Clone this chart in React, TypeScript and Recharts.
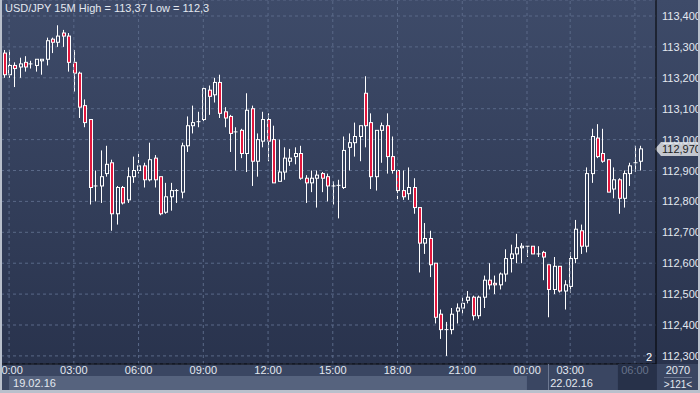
import React from 'react';
import { ComposedChart, Bar, XAxis, YAxis, CartesianGrid, ReferenceLine } from 'recharts';

// USD/JPY 15M candles
const opens = [
  113.28, 113.21, 113.24, 113.235, 113.25, 113.245, 113.24, 113.255, 113.26, 113.325,
  113.315, 113.345, 113.335, 113.25, 113.215, 113.11, 113.065, 112.85, 112.85, 112.89,
  112.925, 112.76, 112.845, 112.805, 112.88, 112.9, 112.915, 112.87, 112.94, 112.88,
  112.765, 112.815, 112.835, 112.83, 112.98, 113.045, 113.055, 113.065, 113.16, 113.145,
  113.185, 113.09, 113.075, 113.025, 113.03, 112.955, 113.1, 112.93, 112.995, 113.065,
  113.0, 112.865, 112.895, 112.93, 112.945, 112.955, 112.875, 112.86, 112.875, 112.89,
  112.88, 112.85, 112.85, 112.845, 112.975, 112.99, 113.01, 113.15, 113.055, 112.88,
  113.03, 113.045, 112.945, 112.9, 112.835, 112.825, 112.845, 112.78, 112.665, 112.68,
  112.6, 112.435, 112.385, 112.385, 112.445, 112.455, 112.48, 112.49, 112.43, 112.49,
  112.545, 112.535, 112.53, 112.565, 112.615, 112.63, 112.65, 112.655, 112.655, 112.63,
  112.635, 112.595, 112.515, 112.59, 112.51, 112.525, 112.615, 112.705, 112.655, 112.89,
  113.005, 112.955, 112.935, 112.84, 112.87, 112.81, 112.89, 112.925, 112.93,
];
const highs = [
  113.29, 113.29, 113.25, 113.265, 113.27, 113.255, 113.26, 113.26, 113.33, 113.33,
  113.37, 113.355, 113.345, 113.29, 113.22, 113.13, 113.065, 112.9, 112.965, 112.98,
  112.935, 112.85, 112.85, 112.91, 112.945, 112.955, 112.925, 112.99, 112.95, 112.88,
  112.86, 112.86, 112.84, 112.99, 113.075, 113.11, 113.09, 113.17, 113.175, 113.2,
  113.21, 113.105, 113.08, 113.04, 113.035, 113.15, 113.11, 113.02, 113.09, 113.085,
  113.045, 113.0, 112.975, 112.97, 112.975, 112.98, 112.885, 112.9, 112.9, 112.895,
  112.89, 112.865, 112.87, 113.01, 113.02, 113.055, 113.045, 113.205, 113.085, 113.03,
  113.055, 113.085, 113.01, 112.9, 112.9, 112.91, 112.875, 112.78, 112.73, 112.705,
  112.6, 112.45, 112.41, 112.455, 112.47, 112.49, 112.51, 112.495, 112.495, 112.56,
  112.6, 112.56, 112.57, 112.645, 112.66, 112.695, 112.665, 112.655, 112.655, 112.655,
  112.64, 112.595, 112.62, 112.59, 112.545, 112.635, 112.74, 112.725, 112.91, 113.035,
  113.05, 113.035, 112.935, 112.91, 112.875, 112.9, 112.925, 112.98, 112.98,
];
const lows = [
  113.2, 113.2, 113.17, 113.2, 113.22, 113.23, 113.22, 113.21, 113.24, 113.28,
  113.3, 113.3, 113.22, 113.155, 113.07, 113.04, 112.79, 112.8, 112.795, 112.88,
  112.705, 112.725, 112.79, 112.795, 112.86, 112.89, 112.845, 112.865, 112.845, 112.755,
  112.76, 112.77, 112.795, 112.81, 112.96, 113.02, 113.04, 113.06, 113.08, 113.12,
  113.07, 113.04, 112.96, 112.9, 112.94, 112.895, 112.85, 112.88, 112.975, 112.93,
  112.86, 112.865, 112.87, 112.915, 112.92, 112.87, 112.795, 112.83, 112.78, 112.83,
  112.8, 112.79, 112.745, 112.84, 112.9, 112.945, 112.93, 112.975, 112.84, 112.835,
  112.925, 112.89, 112.89, 112.805, 112.805, 112.805, 112.76, 112.57, 112.63, 112.555,
  112.405, 112.355, 112.3, 112.37, 112.405, 112.435, 112.47, 112.415, 112.42, 112.455,
  112.515, 112.5, 112.515, 112.54, 112.57, 112.6, 112.6, 112.62, 112.63, 112.62,
  112.545, 112.425, 112.5, 112.505, 112.45, 112.505, 112.6, 112.63, 112.635, 112.86,
  112.94, 112.925, 112.83, 112.81, 112.76, 112.78, 112.85, 112.895, 112.9,
];
const closes = [
  113.21, 113.24, 113.23, 113.245, 113.235, 113.245, 113.26, 113.26, 113.32, 113.315,
  113.335, 113.335, 113.25, 113.215, 113.105, 113.055, 112.845, 112.85, 112.88, 112.92,
  112.76, 112.845, 112.795, 112.88, 112.9, 112.915, 112.87, 112.935, 112.87, 112.76,
  112.815, 112.835, 112.835, 112.98, 113.045, 113.055, 113.058, 113.165, 113.14, 113.185,
  113.085, 113.07, 113.02, 113.025, 112.955, 113.095, 112.93, 113.0, 113.065, 112.995,
  112.86, 112.895, 112.94, 112.94, 112.955, 112.875, 112.86, 112.875, 112.885, 112.875,
  112.85, 112.85, 112.852, 112.965, 112.99, 113.01, 113.045, 113.045, 112.88, 113.03,
  113.045, 112.945, 112.9, 112.835, 112.815, 112.845, 112.78, 112.665, 112.68, 112.595,
  112.425, 112.385, 112.385, 112.435, 112.455, 112.47, 112.49, 112.43, 112.49, 112.545,
  112.53, 112.53, 112.565, 112.615, 112.63, 112.65, 112.655, 112.655, 112.63, 112.63,
  112.62, 112.515, 112.59, 112.51, 112.53, 112.615, 112.71, 112.655, 112.89, 113.01,
  112.945, 112.93, 112.83, 112.87, 112.81, 112.89, 112.915, 112.925, 112.97,
];

const priceTicks = [112.3, 112.4, 112.5, 112.6, 112.7, 112.8, 112.9, 113.0, 113.1, 113.2, 113.3, 113.4];
const timeTickIdx = [1, 13, 25, 37, 49, 61, 73, 85, 97, 105, 117];
const timeTickLabels = ['00:00', '03:00', '06:00', '09:00', '12:00', '15:00', '18:00', '21:00', '00:00', '03:00', '06:00'];
const dateLabels = ['19.02.16', '22.02.16'];

const FONT = "'Liberation Sans Narrow', 'Liberation Sans', Arial, sans-serif";
const BAND = 5.394;

const data = opens.map((o, i) => ({
  i,
  open: o,
  high: highs[i],
  low: lows[i],
  close: closes[i],
  range: [lows[i], highs[i]],
}));

const fmt = (v: number, d = 3) => v.toFixed(d).replace('.', ',');

const Candle = (props: any) => {
  const { x, y, width, height, payload } = props;
  const { open, close, high, low } = payload;
  const c = Math.floor(x + width / 2);
  const wx = c + 0.5;
  const k = height / (high - low);
  const py = (p: number) => y + (high - p) * k;
  const top = py(Math.max(open, close));
  const bot = py(Math.min(open, close));
  const up = close >= open;
  if (bot - top < 1) {
    return (
      <g>
        <line x1={wx} x2={wx} y1={y} y2={y + height} stroke="#fff" />
        <line x1={c - 1.5} x2={c + 2.5} y1={top} y2={top} stroke="#fff" />
      </g>
    );
  }
  return (
    <g>
      <line x1={wx} x2={wx} y1={y} y2={top} stroke="#fff" />
      <line x1={wx} x2={wx} y1={bot} y2={y + height} stroke="#fff" />
      <rect x={c - 0.5} y={top} width={3} height={bot - top} fill={up ? 'none' : '#e2173d'} stroke="#fff" strokeWidth={1} />
    </g>
  );
};

const TimeTick = (props: any) => {
  const { x, y, payload } = props;
  const k = timeTickIdx.indexOf(payload.value);
  if (k < 0) return null;
  const last = k === timeTickIdx.length - 1;
  return (
    <g style={{ fontFamily: FONT, fontSize: 11 }}>
      {k === 0 && <rect x={x} y={y + 12} width={96 * BAND} height={14} fill="#56637e" />}
      {k === 8 && <line x1={x + 21.5} x2={x + 21.5} y1={y} y2={y + 26} stroke="#6d7891" />}
      {last && <rect x={x - 17} y={y} width={39} height={26} fill="#273149" />}
      <text x={x} y={y + 10} textAnchor="middle" fill={last ? '#66718a' : '#e3e8f0'}>{timeTickLabels[k]}</text>
      {k === 0 && <text x={x + 4} y={y + 23} fill="#e3e8f0">{dateLabels[0]}</text>}
      {k === 9 && <text x={x - 20} y={y + 23} fill="#e3e8f0">{dateLabels[1]}</text>}
    </g>
  );
};

const PriceTick = (props: any) => {
  const { x, y, payload } = props;
  return (
    <text x={x + 4} y={y + 4} fill="#e3e8f0" style={{ fontFamily: FONT, fontSize: 11 }}>{fmt(payload.value)}</text>
  );
};

const PriceTag = (props: any) => {
  const { viewBox, value } = props;
  const x0 = viewBox.x + viewBox.width;
  const y0 = viewBox.y;
  return (
    <g>
      <polygon points={`${x0 - 1},${y0} ${x0 + 5},${y0 - 7} ${x0 + 42},${y0 - 7} ${x0 + 42},${y0 + 7} ${x0 + 5},${y0 + 7}`} fill="#c4c8d0" />
      <text x={x0 + 6} y={y0 + 4} fill="#1c1c1c" style={{ fontFamily: FONT, fontSize: 11 }}>{fmt(value)}</text>
    </g>
  );
};

export default function App() {
  const last = closes[closes.length - 1];
  return (
    <div style={{ position: 'absolute', left: 0, top: 0, width: 700, height: 393, overflow: 'hidden' }}>
      <svg width={700} height={393} style={{ position: 'absolute', left: 0, top: 0 }}>
        <defs>
          <linearGradient id="bg" x1="0" y1="0" x2="0" y2="1">
            <stop offset="0%" stopColor="#3e4b69" />
            <stop offset="100%" stopColor="#29334d" />
          </linearGradient>
        </defs>
        <rect x={0} y={0} width={700} height={364} fill="url(#bg)" />
        <rect x={0} y={364} width={700} height={29} fill="#3a4662" />
      </svg>
      <div style={{ position: 'absolute', left: 0, top: 0 }}>
        <ComposedChart width={700} height={393} data={data} margin={{ top: 0, right: 0, bottom: 0, left: 1 }} barCategoryGap={0}>
          <CartesianGrid horizontal vertical={false} stroke="#5a6988" strokeDasharray="3 3" />
          {timeTickIdx.map((t) => (
            <ReferenceLine key={t} x={t} stroke="#5a6988" strokeDasharray="3 3" />
          ))}
          <XAxis
            dataKey="i"
            type="category"
            interval={0}
            height={29}
            tickSize={0}
            tickMargin={0}
            tickLine={false}
            axisLine={{ stroke: '#000' }}
            padding={{ left: 0, right: 13 }}
            tick={<TimeTick />}
          />
          <YAxis
            orientation="right"
            width={44}
            domain={[112.2738, 113.4518]}
            ticks={priceTicks}
            allowDataOverflow
            tickSize={0}
            tickLine={false}
            axisLine={{ stroke: '#000' }}
            tick={<PriceTick />}
          />
          <Bar dataKey="range" barSize={4} shape={<Candle />} isAnimationActive={false} />
          <ReferenceLine y={last} stroke="none" label={<PriceTag value={last} />} />
        </ComposedChart>
      </div>
      <svg width={700} height={393} style={{ position: 'absolute', left: 0, top: 0, pointerEvents: 'none' }}>
        <text x={5} y={12} fill="#e3e8f0" style={{ fontFamily: FONT, fontSize: 11 }}>USD/JPY 15M High = 113,37 Low = 112,3</text>
        <text x={646} y={361} fill="#ffffff" style={{ fontFamily: FONT, fontSize: 11 }}>2</text>
        <text x={678} y={374} textAnchor="middle" fill="#e3e8f0" style={{ fontFamily: FONT, fontSize: 11 }}>2070</text>
        <line x1={664} x2={692} y1={377.5} y2={377.5} stroke="#6d7891" />
        <text x={678} y={388} textAnchor="middle" fill="#e3e8f0" style={{ fontFamily: FONT, fontSize: 10 }}>{'>121<'}</text>
        <rect x={0} y={0} width={2} height={393} fill="#b9c0cc" />
        <rect x={698} y={0} width={2} height={393} fill="#b9c0cc" />
        <rect x={0} y={390} width={700} height={3} fill="#b9c0cc" />
      </svg>
    </div>
  );
}
